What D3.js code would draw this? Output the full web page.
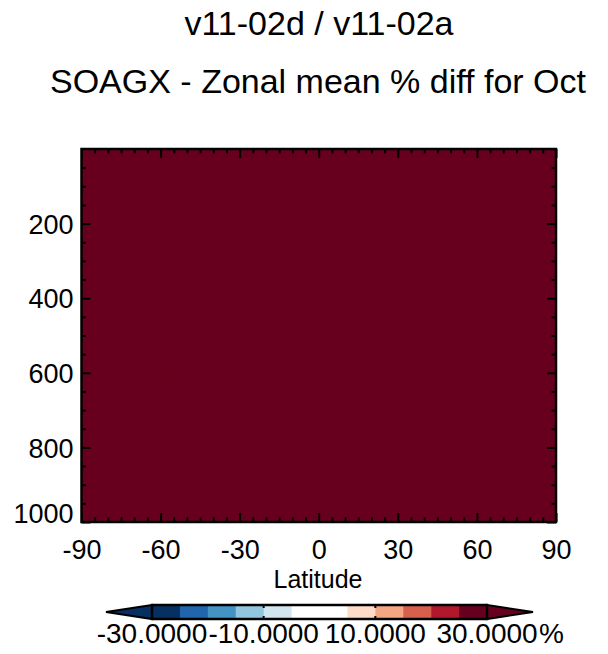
<!DOCTYPE html>
<html>
<head>
<meta charset="utf-8">
<script src="https://cdn.jsdelivr.net/npm/d3@7"></script>
<style>
  html, body { margin: 0; padding: 0; background: #ffffff; }
  svg { display: block; }
  text { font-family: "Liberation Sans", Arial, Helvetica, sans-serif; fill: #000; }
</style>
</head>
<body>
<svg id="chart" width="608" height="654"></svg>
<script>
// ---------------- data ----------------
const titleLine1 = "v11-02d / v11-02a";
const titleLine2 = "SOAGX - Zonal mean % diff for Oct";
const xAxisTitle = "Latitude";

// latitude band edges (deg) and pressure level edges (hPa)
const latEdges = [-90, -60, -30, 0, 30, 60, 90];
const levEdges = [0, 200, 400, 600, 800, 1000];

// zonal-mean % difference per cell (rows = pressure bands, cols = latitude bands)
const pctDiff = [
  [40, 40, 40, 40, 40, 40],
  [40, 40, 40, 40, 40, 40],
  [40, 40, 40, 40, 40, 40],
  [40, 40, 40, 40, 40, 40],
  [40, 40, 40, 40, 40, 40]
];

const xTicks = [-90, -60, -30, 0, 30, 60, 90];
const xMinorTicks = [-85,-80,-75,-70,-65,-55,-50,-45,-40,-35,-25,-20,-15,-10,-5,
                     5,10,15,20,25,35,40,45,50,55,65,70,75,80,85];
const yTicks = [200, 400, 600, 800, 1000];
const yMinorTicks = [50,100,150,250,300,350,450,500,550,650,700,750,850,900,950];

// contour levels and colours
const levels = [-30, -25, -20, -15, -10, -5, 0, 5, 10, 15, 20, 25, 30];
const levelColors = ["#053061", "#2166ac", "#4393c3", "#92c5de", "#d1e5f0", "#ffffff",
                     "#ffffff", "#fddbc7", "#f4a582", "#d6604d", "#b2182b", "#67001f"];
const underColor = "#053061";
const overColor = "#67001f";
const cbarTicks = [-30, -10, 10, 30];
const cbarUnit = "%";

// ---------------- layout ----------------
const svg = d3.select("#chart");
const plot = { left: 81.5, right: 556, top: 149, bottom: 522 };

const x = d3.scaleLinear().domain([-90, 90]).range([plot.left, plot.right]);
const y = d3.scaleLinear().domain([0, 1000]).range([plot.top, plot.bottom]);

const colorScale = d3.scaleThreshold()
  .domain(levels)
  .range([underColor, ...levelColors, overColor]);

// titles
svg.append("text").attr("x", 319).attr("y", 35).attr("text-anchor", "middle")
  .style("font-size", "34px").text(titleLine1);
svg.append("text").attr("x", 318).attr("y", 93).attr("text-anchor", "middle")
  .style("font-size", "34px").text(titleLine2);

// field cells
const cells = [];
pctDiff.forEach((row, i) => row.forEach((v, j) => {
  cells.push({ x0: latEdges[j], x1: latEdges[j + 1], y0: levEdges[i], y1: levEdges[i + 1], v });
}));
svg.append("g").selectAll("rect").data(cells).join("rect")
  .attr("x", d => x(d.x0))
  .attr("y", d => y(d.y0))
  .attr("width", d => x(d.x1) - x(d.x0) + 0.5)
  .attr("height", d => y(d.y1) - y(d.y0) + 0.5)
  .attr("fill", d => colorScale(d.v))
  .attr("stroke", d => colorScale(d.v))
  .attr("stroke-width", 0.6);

// axes
const majorLen = 9, minorLen = 4.5;
const plainFmt = d => String(d);
function styleAxis(g) {
  g.select(".domain").remove();
  g.selectAll("line").attr("stroke", "#000").attr("stroke-width", 2);
}
// bottom
const gB = svg.append("g").attr("transform", `translate(0,${plot.bottom})`)
  .call(d3.axisBottom(x).tickValues(xTicks).tickSize(-majorLen).tickFormat(plainFmt));
styleAxis(gB);
gB.selectAll("text").attr("y", 37).attr("dy", null).style("font-size", "27px");
svg.append("g").attr("transform", `translate(0,${plot.bottom})`)
  .call(d3.axisBottom(x).tickValues(xMinorTicks).tickSize(-minorLen).tickFormat(""))
  .call(styleAxis);
// top
svg.append("g").attr("transform", `translate(0,${plot.top})`)
  .call(d3.axisTop(x).tickValues(xTicks).tickSize(-majorLen).tickFormat(""))
  .call(styleAxis);
svg.append("g").attr("transform", `translate(0,${plot.top})`)
  .call(d3.axisTop(x).tickValues(xMinorTicks).tickSize(-minorLen).tickFormat(""))
  .call(styleAxis);
// left
const gL = svg.append("g").attr("transform", `translate(${plot.left},0)`)
  .call(d3.axisLeft(y).tickValues(yTicks).tickSize(-majorLen).tickPadding(8).tickFormat(plainFmt));
styleAxis(gL);
gL.selectAll("text")
  .attr("dy", d => d === 1000 ? "0.0em" : "0.36em")
  .style("font-size", "27px");
svg.append("g").attr("transform", `translate(${plot.left},0)`)
  .call(d3.axisLeft(y).tickValues(yMinorTicks).tickSize(-minorLen).tickFormat(""))
  .call(styleAxis);
// right
svg.append("g").attr("transform", `translate(${plot.right},0)`)
  .call(d3.axisRight(y).tickValues(yTicks).tickSize(-majorLen).tickFormat(""))
  .call(styleAxis);
svg.append("g").attr("transform", `translate(${plot.right},0)`)
  .call(d3.axisRight(y).tickValues(yMinorTicks).tickSize(-minorLen).tickFormat(""))
  .call(styleAxis);

// frame
svg.append("rect")
  .attr("x", plot.left).attr("y", plot.top)
  .attr("width", plot.right - plot.left).attr("height", plot.bottom - plot.top)
  .attr("fill", "none").attr("stroke", "#000").attr("stroke-width", 2.5);

// x axis title
svg.append("text").attr("x", 318).attr("y", 588).attr("text-anchor", "middle")
  .style("font-size", "25px").text(xAxisTitle);

// ---------------- colorbar ----------------
const cb = { left: 152, right: 487, top: 605, bottom: 619, tipL: 106, tipR: 533 };
const cx = d3.scaleLinear().domain([levels[0], levels[levels.length - 1]]).range([cb.left, cb.right]);
const cbG = svg.append("g");
const segs = levelColors.map((c, i) => ({ a: levels[i], b: levels[i + 1], c }));
cbG.selectAll("rect.seg").data(segs).join("rect")
  .attr("class", "seg")
  .attr("x", d => cx(d.a)).attr("y", cb.top)
  .attr("width", d => cx(d.b) - cx(d.a) + 0.5).attr("height", cb.bottom - cb.top)
  .attr("fill", d => d.c);
const midY = (cb.top + cb.bottom) / 2;
cbG.append("path")
  .attr("d", `M${cb.left},${cb.top}L${cb.tipL},${midY}L${cb.left},${cb.bottom}Z`)
  .attr("fill", underColor).attr("stroke", "#000").attr("stroke-width", 2);
cbG.append("path")
  .attr("d", `M${cb.right},${cb.top}L${cb.tipR},${midY}L${cb.right},${cb.bottom}Z`)
  .attr("fill", overColor).attr("stroke", "#000").attr("stroke-width", 2);
cbG.append("rect")
  .attr("x", cb.left).attr("y", cb.top)
  .attr("width", cb.right - cb.left).attr("height", cb.bottom - cb.top)
  .attr("fill", "none").attr("stroke", "#000").attr("stroke-width", 2.5);
// small ticks on colorbar
cbG.selectAll("line.ct").data(cbarTicks).join("line").attr("class", "ct")
  .attr("x1", d => cx(d)).attr("x2", d => cx(d))
  .attr("y1", cb.top).attr("y2", cb.top + 3)
  .attr("stroke", "#000").attr("stroke-width", 2);
cbG.selectAll("line.cb2").data(cbarTicks).join("line").attr("class", "cb2")
  .attr("x1", d => cx(d)).attr("x2", d => cx(d))
  .attr("y1", cb.bottom - 3).attr("y2", cb.bottom)
  .attr("stroke", "#000").attr("stroke-width", 2);
cbG.selectAll("text.cl").data(cbarTicks).join("text").attr("class", "cl")
  .attr("x", d => cx(d)).attr("y", 643).attr("text-anchor", "middle")
  .style("font-size", "28px").text(d => d.toFixed(4));
cbG.append("text").attr("x", 539).attr("y", 643).attr("text-anchor", "start")
  .style("font-size", "28px").text(cbarUnit);
</script>
</body>
</html>
